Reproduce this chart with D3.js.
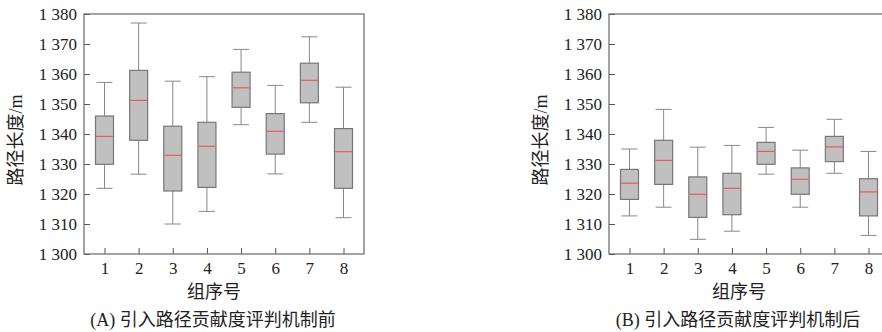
<!DOCTYPE html>
<html><head><meta charset="utf-8">
<script src="https://cdn.jsdelivr.net/npm/d3@7"></script>
<style>
body{margin:0;background:#fff;}
svg{display:block;}
text{font-family:"Liberation Serif","Noto Sans CJK SC",serif;fill:#222;}
</style></head>
<body>
<svg id="c" width="882" height="332"></svg>
<script>
const groups = [1,2,3,4,5,6,7,8];
const yTicks = [1300,1310,1320,1330,1340,1350,1360,1370,1380];
// Panel A: before
const aMin = [1321.9,1326.6,1310.0,1314.2,1343.1,1326.7,1343.9,1312.1];
const aQ1  = [1329.9,1337.9,1321.0,1322.2,1348.9,1333.3,1350.4,1321.9];
const aMed = [1339.2,1351.2,1332.9,1335.9,1355.4,1340.9,1357.9,1334.1];
const aQ3  = [1346.0,1361.2,1342.6,1343.9,1360.6,1346.8,1363.6,1341.8];
const aMax = [1357.2,1377.0,1357.6,1359.1,1368.2,1356.2,1372.4,1355.6];
// Panel B: after
const bMin = [1312.7,1315.6,1304.9,1307.6,1326.6,1315.6,1326.9,1306.2];
const bQ1  = [1318.2,1323.2,1312.2,1313.1,1329.9,1319.9,1330.8,1312.7];
const bMed = [1323.6,1331.2,1319.9,1321.9,1334.2,1324.9,1335.7,1320.7];
const bQ3  = [1328.2,1337.9,1325.7,1326.9,1337.2,1328.7,1339.2,1325.1];
const bMax = [1335.0,1348.2,1335.6,1336.2,1342.2,1334.6,1344.9,1334.2];

const yTitle = "路径长度/m";
const xTitle = "组序号";
const captions = ["(A) 引入路径贡献度评判机制前", "(B) 引入路径贡献度评判机制后"];

const fmt = d3.formatLocale({decimal:".", thousands:" ", grouping:[3], currency:["",""]}).format(",");
const svg = d3.select("#c");

function panel(left, mins, q1s, meds, q3s, maxs, caption) {
  const W = 280, top = 14, H = 240;
  const g = svg.append("g").attr("transform", `translate(${left},${top})`);
  const x = d3.scaleLinear().domain([0.4, 8.6]).range([0, W]);
  const y = d3.scaleLinear().domain([1300, 1380]).range([H, 0]);

  const yAx = g.append("g").call(d3.axisLeft(y).tickValues(yTicks).tickFormat(fmt).tickSize(-6).tickPadding(7));
  const xAx = g.append("g").attr("transform", `translate(0,${H})`).call(d3.axisBottom(x).tickValues(groups).tickFormat(d3.format("d")).tickSize(-6).tickPadding(8));
  [yAx, xAx].forEach(a => {
    a.select(".domain").remove();
    a.selectAll(".tick line").attr("stroke", "#555");
    a.selectAll(".tick text").style("font-size", "17px").attr("fill", "#222");
  });

  g.append("rect").attr("x", 0).attr("y", 0).attr("width", W).attr("height", H)
    .attr("fill", "none").attr("stroke", "#666").attr("stroke-width", 1.2);

  const bw = 18, cw = 16;
  const data = groups.map((k, i) => ({k, min: mins[i], q1: q1s[i], med: meds[i], q3: q3s[i], max: maxs[i]}));
  const b = g.selectAll(".box").data(data).join("g");
  b.append("line").attr("x1", d => x(d.k)).attr("x2", d => x(d.k)).attr("y1", d => y(d.max)).attr("y2", d => y(d.q3)).attr("stroke", "#888");
  b.append("line").attr("x1", d => x(d.k)).attr("x2", d => x(d.k)).attr("y1", d => y(d.q1)).attr("y2", d => y(d.min)).attr("stroke", "#888");
  b.append("line").attr("x1", d => x(d.k) - cw/2).attr("x2", d => x(d.k) + cw/2).attr("y1", d => y(d.max)).attr("y2", d => y(d.max)).attr("stroke", "#888");
  b.append("line").attr("x1", d => x(d.k) - cw/2).attr("x2", d => x(d.k) + cw/2).attr("y1", d => y(d.min)).attr("y2", d => y(d.min)).attr("stroke", "#888");
  b.append("rect").attr("x", d => x(d.k) - bw/2).attr("width", bw).attr("y", d => y(d.q3)).attr("height", d => y(d.q1) - y(d.q3))
    .attr("fill", "#c0c0c0").attr("stroke", "#777").attr("stroke-width", 1.2);
  b.append("line").attr("x1", d => x(d.k) - bw/2 + 0.6).attr("x2", d => x(d.k) + bw/2 - 0.6).attr("y1", d => y(d.med)).attr("y2", d => y(d.med)).attr("stroke", "#e85a5a").attr("stroke-width", 1.2);

  g.append("text").attr("transform", `translate(${-68},${H/2 + 6}) rotate(-90)`).attr("text-anchor", "middle")
    .attr("dominant-baseline", "central").style("font-size", "18px").text(yTitle);
  g.append("text").attr("x", W/2 - 10).attr("y", 278).attr("text-anchor", "middle").attr("dominant-baseline", "central")
    .style("font-size", "18px").text(xTitle);
  g.append("text").attr("x", W/2 - 11).attr("y", 306).attr("text-anchor", "middle").attr("dominant-baseline", "central")
    .style("font-size", "18px").text(caption);
}

panel(84, aMin, aQ1, aMed, aQ3, aMax, captions[0]);
panel(609, bMin, bQ1, bMed, bQ3, bMax, captions[1]);
</script>
</body></html>
